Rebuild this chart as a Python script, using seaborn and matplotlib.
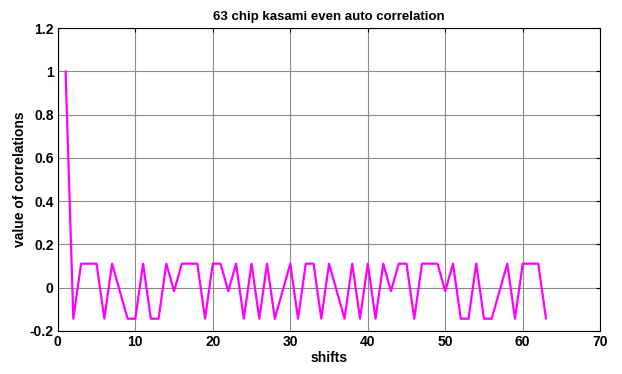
import numpy as np
import pandas as pd
import matplotlib
matplotlib.use("Agg")
import matplotlib.pyplot as plt
import seaborn as sns

T, B, M = 0.111, -0.143, -0.016
shifts = list(range(1, 64))
codes = ["1", "B", "T", "T", "T", "B", "T", "M", "B", "B",
         "T", "B", "B", "T", "M", "T", "T", "T", "B", "T",
         "T", "M", "T", "B", "T", "B", "T", "B", "M", "T",
         "B", "T", "T", "B", "T", "M", "B", "T", "B", "T",
         "B", "T", "M", "T", "T", "B", "T", "T", "T", "M",
         "T", "B", "B", "T", "B", "B", "M", "T", "B", "T",
         "T", "T", "B"]
lookup = {"1": 1.0, "T": T, "B": B, "M": M}
values = [lookup[c] for c in codes]
x_ticks = [0, 10, 20, 30, 40, 50, 60, 70]
y_ticks = [-0.2, 0, 0.2, 0.4, 0.6, 0.8, 1, 1.2]
y_labels = ["-0.2", "0", "0.2", "0.4", "0.6", "0.8", "1", "1.2"]

sns.set_style("white")
plt.rcParams["font.family"] = ["Liberation Sans Narrow", "Liberation Sans", "DejaVu Sans"]
plt.rcParams["text.color"] = "black"
plt.rcParams["axes.labelcolor"] = "black"
plt.rcParams["xtick.color"] = "black"
plt.rcParams["ytick.color"] = "black"

df = pd.DataFrame({"shifts": shifts, "value": values})
fig = plt.figure(figsize=(6.22, 3.74), dpi=100)
ax = fig.add_axes([0.093, 0.115, 0.872, 0.81])
sns.lineplot(data=df, x="shifts", y="value", ax=ax, color="#ff00ff", linewidth=1.6)

ax.set_xlim(0, 70)
ax.set_ylim(-0.2, 1.2)
ax.set_xticks(x_ticks)
ax.set_xticklabels([str(v) for v in x_ticks], fontsize=10, fontweight="bold")
ax.set_yticks(y_ticks)
ax.set_yticklabels(y_labels, fontsize=10, fontweight="bold")
ax.grid(True, color="#8c8c8c", linewidth=0.8, linestyle="-")
ax.tick_params(direction="in", length=3, top=True, right=True, width=0.8, pad=3)
for s in ax.spines.values():
    s.set_color("black")
    s.set_linewidth(0.8)
ax.set_xlabel("shifts", fontsize=10, fontweight="bold", labelpad=1)
ax.set_ylabel("value of correlations", fontsize=10, fontweight="bold", labelpad=2)
ax.set_title("63 chip kasami even auto correlation", fontsize=9.5, fontweight="bold", pad=6)
fig.savefig("out.png", dpi=100)
